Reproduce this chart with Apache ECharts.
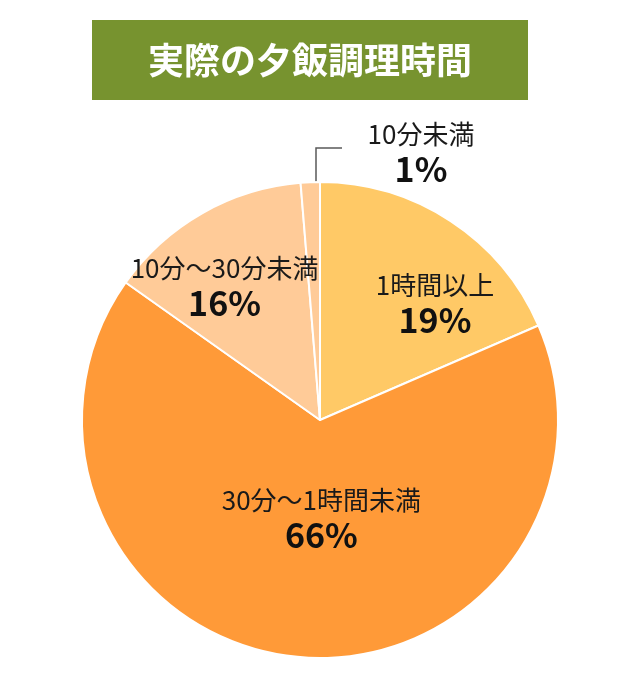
<!DOCTYPE html>
<html>
<head>
<meta charset="utf-8">
<script src="https://cdn.jsdelivr.net/npm/echarts@6/dist/echarts.min.js"></script>
<style>
  html, body { margin: 0; padding: 0; background: #fff; }
  #chart { width: 620px; height: 700px; }
</style>
</head>
<body>
<div id="chart"></div>
<script>
// Slice shares as drawn (angles) and the printed labels
const categories = ['1時間以上', '30分～1時間未満', '10分～30分未満', '10分未満'];
const shares = [18.5, 66.3, 13.9, 1.3];
const printedPct = ['19%', '66%', '16%', '1%'];
const sliceColors = ['#FFC966', '#FF9A38', '#FFCB98', '#FFCB98'];

// nudges for the inside labels, relative to echarts default spot
const labelNudge = [[48, -15], [14, -23], [-35, -28]];

const chart = echarts.init(document.getElementById('chart'));

const option = {
  backgroundColor: '#fff',
  animation: false,
  graphic: [
    {
      type: 'rect',
      left: 92, top: 20,
      shape: { width: 436, height: 80 },
      style: { fill: '#77932F' }
    },
    {
      type: 'text',
      x: 310, y: 60,
      style: {
        text: '実際の夕飯調理時間',
        fill: '#fff',
        align: 'center',
        verticalAlign: 'middle',
        font: 'bold 36px "Noto Sans CJK JP", sans-serif'
      }
    }
  ],
  series: [{
    type: 'pie',
    center: [320, 420],
    radius: 238,
    startAngle: 90,
    clockwise: true,
    avoidLabelOverlap: false,
    itemStyle: { borderColor: '#fff', borderWidth: 2 },
    label: {
      position: 'inside',
      formatter: p => '{n|' + p.name + '}\n{v|' + printedPct[p.dataIndex] + '}',
      rich: {
        n: { fontFamily: '"Noto Sans CJK JP", sans-serif', fontSize: 26, color: '#1a1a1a', lineHeight: 34, align: 'center' },
        v: { fontFamily: '"Noto Sans CJK JP", sans-serif', fontSize: 34, fontWeight: 'bold', color: '#111', lineHeight: 36, align: 'center' }
      }
    },
    labelLine: { show: false },
    labelLayout: function (params) {
      const i = params.dataIndex;
      if (i < 3) {
        return { dx: labelNudge[i][0], dy: labelNudge[i][1] };
      }
      // small slice: elbow leader up from the rim then to the right
      const ex = 316, ey = 183;
      return {
        x: 421,
        y: 152,
        align: 'center',
        verticalAlign: 'middle',
        labelLinePoints: [[ex, ey], [ex, 148], [342, 148]]
      };
    },
    data: categories.map((name, i) => {
      const d = { name: name, value: shares[i], itemStyle: { color: sliceColors[i] } };
      if (i === 3) {
        d.label = { position: 'outside' };
        d.labelLine = { show: true, lineStyle: { color: '#595959', width: 1.5 } };
      }
      return d;
    })
  }]
};

chart.setOption(option);
</script>
</body>
</html>
